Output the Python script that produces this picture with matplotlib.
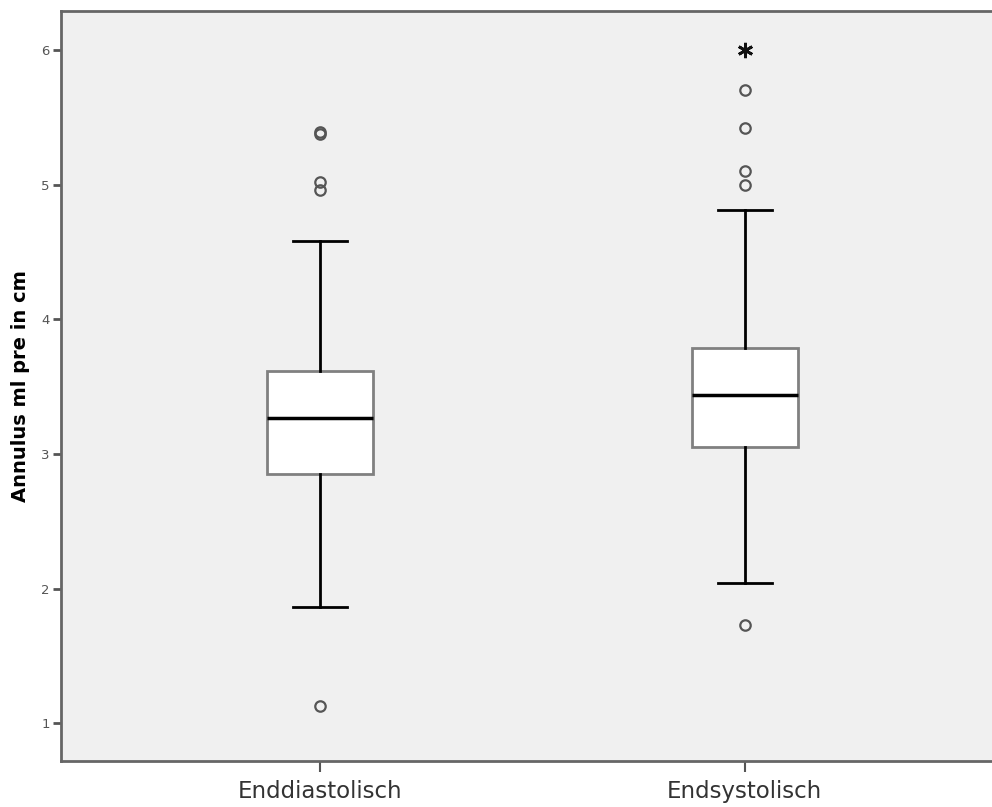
import matplotlib
matplotlib.use("Agg")
import matplotlib.pyplot as plt

categories = ["Enddiastolisch", "Endsystolisch"]
q1 = [2.85, 3.05]
median = [3.27, 3.44]
q3 = [3.615, 3.785]
whislo = [1.86, 2.04]
whishi = [4.585, 4.81]
outliers = [[5.38, 5.39, 5.02, 4.96, 1.13], [5.70, 5.42, 5.10, 5.00, 1.73]]
extremes = [[], [6.0]]
yticks = [1, 2, 3, 4, 5, 6]

fig = plt.figure(figsize=(9.92, 8.07), dpi=100)
fig.patch.set_facecolor("white")
ax = fig.add_axes([61/992, 46/807, 931/992, 750/807])
ax.set_facecolor("#f0f0f0")

stats = []
for i, c in enumerate(categories):
    stats.append(dict(label=c, q1=q1[i], med=median[i], q3=q3[i],
                      whislo=whislo[i], whishi=whishi[i], fliers=outliers[i]))

positions = [1, 2]
ax.bxp(stats, positions=positions, widths=0.25, capwidths=0.127,
       patch_artist=True,
       boxprops=dict(facecolor="white", edgecolor="#808080", linewidth=2),
       medianprops=dict(color="black", linewidth=2.5),
       whiskerprops=dict(color="black", linewidth=2),
       capprops=dict(color="black", linewidth=2),
       flierprops=dict(marker="o", markersize=7.5, markerfacecolor="none",
                       markeredgecolor="#555555", markeredgewidth=1.6))

for p, ex in zip(positions, extremes):
    for v in ex:
        ax.plot([p], [v], marker=(6, 2, 0), markersize=11, color="#111111",
                markeredgewidth=2.0, linestyle="none")

ax.set_xlim(0.391, 2.582)
ax.set_ylim(0.72, 6.29)
ax.set_yticks(yticks)
ax.set_yticklabels([str(t) for t in yticks])
ax.set_xticks(positions)
ax.set_xticklabels(categories)

for s in ["left", "bottom", "top"]:
    ax.spines[s].set_color("#666666")
    ax.spines[s].set_linewidth(2)
ax.spines["right"].set_visible(False)

ax.tick_params(axis="y", direction="out", length=6, width=2, color="#555555",
               labelsize=9.5, labelcolor="#555555", pad=2)
ax.tick_params(axis="x", direction="out", length=8, width=1.5, color="#555555",
               labelsize=16.5, labelcolor="#333333", pad=6)
ax.set_ylabel("Annulus ml pre in cm", fontsize=14, fontweight="bold", labelpad=8)

fig.savefig("out.png", dpi=100)
